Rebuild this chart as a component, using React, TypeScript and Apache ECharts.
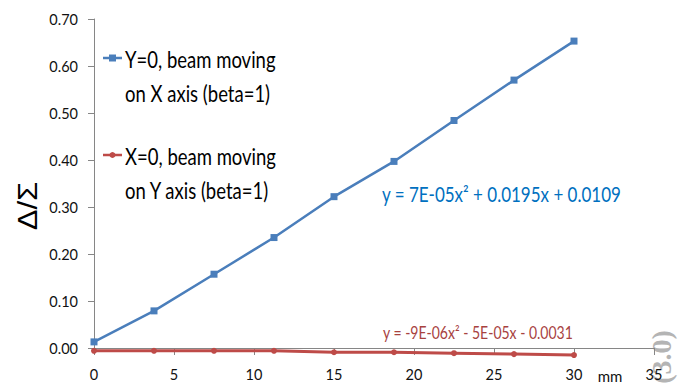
import React, { useEffect, useRef } from "react";
import * as echarts from "echarts";

// Data
const positionsMm = [0, 3.75, 7.5, 11.25, 15, 18.75, 22.5, 26.25, 30];
const beamOnXAxis = [0.013, 0.079, 0.157, 0.235, 0.322, 0.397, 0.484, 0.57, 0.653];
const beamOnYAxis = [-0.006, -0.006, -0.006, -0.006, -0.009, -0.009, -0.011, -0.013, -0.015];
const seriesNames = ["Y=0, beam moving on X axis (beta=1)", "X=0, beam moving on Y axis (beta=1)"];
const legendLines = [
  ["Y=0, beam moving", "on X axis (beta=1)"],
  ["X=0, beam moving", "on Y axis (beta=1)"],
];
const trendTexts = ["y = 7E-05x² + 0.0195x + 0.0109", "y = -9E-06x² - 5E-05x - 0.0031"];
const xRange = [0, 35, 5];
const yRange = [0, 0.7, 0.1];
const yTitle = "Δ/Σ";
const xTitle = "mm";
const stamp = "(3.0)";

const FONT = "Lato, 'Noto Sans', sans-serif";
const BLUE = "#4A7EBB";
const RED = "#BE4B48";
const SY = 1.22;

export default function App() {
  const ref = useRef<HTMLDivElement>(null);
  useEffect(() => {
    if (!ref.current) return;
    const chart = echarts.init(ref.current, null, { renderer: "svg" });
    const txt = (text: string, x: number, y: number, size: number, fill: string, align = "left", sy = SY) => ({
      type: "text",
      x,
      y,
      scaleY: sy,
      style: { text, font: `${size}px ${FONT}`, fill, align, verticalAlign: "middle" },
    });
    const legendItem = (i: number, y: number, color: string, marker: any) => [
      { type: "line", shape: { x1: 103, y1: y, x2: 122, y2: y }, style: { stroke: color, lineWidth: 2.5 } },
      marker,
      txt(legendLines[i][0], 125, y + 1, 18.5, "#000"),
      txt(legendLines[i][1], 125, y + 35, 18.5, "#000"),
    ];
    chart.setOption({
      animation: false,
      backgroundColor: "#ffffff",
      grid: { left: 94, right: 31, top: 19, bottom: 38, containLabel: false },
      xAxis: {
        type: "value",
        min: xRange[0],
        max: xRange[1],
        interval: xRange[2],
        splitLine: { show: false },
        axisLine: { show: true, lineStyle: { color: "#868686", width: 1 } },
        axisTick: { show: true, length: 7, lineStyle: { color: "#868686" } },
        axisLabel: { color: "#111", fontSize: 14.5, fontFamily: FONT, margin: 19 },
      },
      yAxis: {
        type: "value",
        min: yRange[0],
        max: yRange[1],
        interval: yRange[2],
        splitLine: { show: false },
        axisLine: { show: true, lineStyle: { color: "#868686", width: 1 } },
        axisTick: { show: true, length: 6, lineStyle: { color: "#868686" } },
        axisLabel: {
          color: "#111",
          fontSize: 14.5,
          fontFamily: FONT,
          margin: 16,
          formatter: (v: number) => v.toFixed(2),
        },
      },
      series: [
        {
          name: seriesNames[0],
          type: "line",
          data: positionsMm.map((x, i) => [x, beamOnXAxis[i]]),
          symbol: "rect",
          symbolSize: 7,
          clip: false,
          itemStyle: { color: BLUE },
          lineStyle: { color: BLUE, width: 2.5 },
        },
        {
          name: seriesNames[1],
          type: "line",
          data: positionsMm.map((x, i) => [x, beamOnYAxis[i]]),
          symbol: "circle",
          symbolSize: 6,
          clip: false,
          itemStyle: { color: RED },
          lineStyle: { color: RED, width: 3 },
        },
      ],
      graphic: [
        ...legendItem(0, 58, BLUE, {
          type: "rect",
          shape: { x: 109, y: 54.5, width: 7, height: 7 },
          style: { fill: BLUE },
        }),
        ...legendItem(1, 155, RED, {
          type: "circle",
          shape: { cx: 112.5, cy: 155, r: 3 },
          style: { fill: RED },
        }),
        txt(trendTexts[0], 382, 194, 17, "#0070C0"),
        txt(trendTexts[1], 383, 332, 14, "#A8423F"),
        txt(xTitle, 610, 376, 15, "#111", "center", 1),
        {
          type: "text",
          x: 28,
          y: 206,
          rotation: Math.PI / 2,
          scaleX: 1.15,
          style: { text: yTitle, font: `27px 'Liberation Sans', Arial, sans-serif`, fill: "#000", align: "center", verticalAlign: "middle" },
        },
        {
          type: "text",
          x: 661,
          y: 357,
          rotation: Math.PI / 2,
          style: { text: stamp, font: `bold 28px 'Liberation Serif', serif`, fill: "#b4b4b4", align: "center", verticalAlign: "middle" },
        },
      ],
    });
    return () => chart.dispose();
  }, []);
  return <div ref={ref} style={{ position: "fixed", left: 0, top: 0, width: 685, height: 386 }} />;
}
